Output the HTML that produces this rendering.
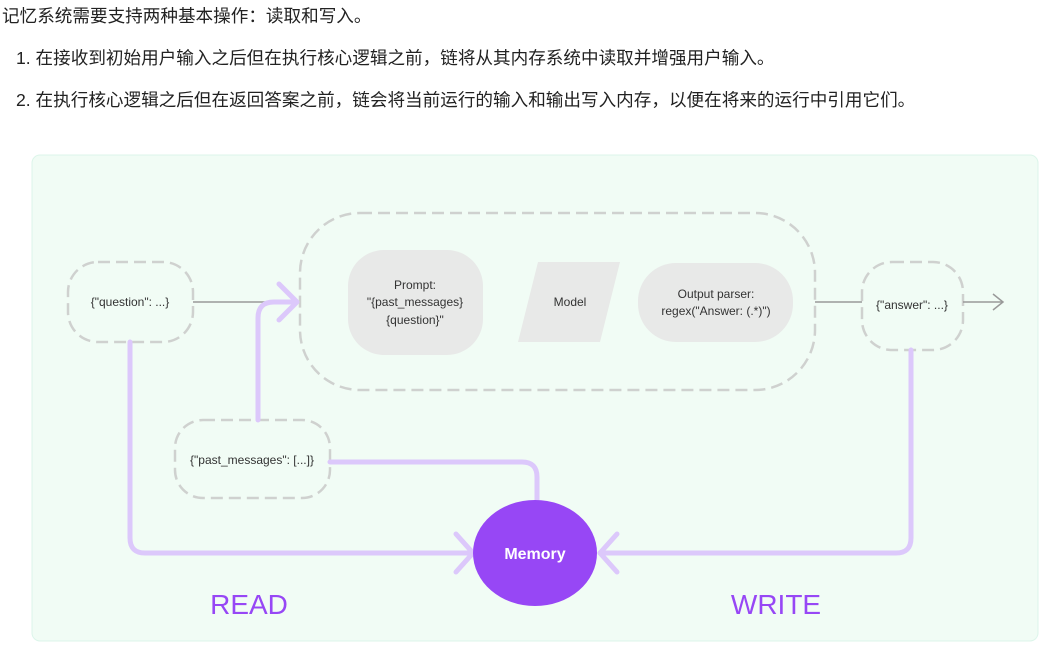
<!DOCTYPE html>
<html><head><meta charset="utf-8"><style>
body{margin:0;width:1061px;height:651px;background:#fff;overflow:hidden;font-family:"Liberation Sans","Noto Sans CJK SC",sans-serif;color:#222}
.t{position:absolute;font-size:17.6px;white-space:nowrap}
</style></head><body>
<div class="t" style="left:2px;top:3px">记忆系统需要支持两种基本操作：读取和写入。</div>
<div class="t" style="left:16px;top:45px">1. 在接收到初始用户输入之后但在执行核心逻辑之前，链将从其内存系统中读取并增强用户输入。</div>
<div class="t" style="left:16px;top:87px">2. 在执行核心逻辑之后但在返回答案之前，链会将当前运行的输入和输出写入内存，以便在将来的运行中引用它们。</div>
<svg style="position:absolute;left:0;top:0" width="1061" height="651" font-family="Liberation Sans, sans-serif">
<rect x="32" y="155" width="1006" height="486" rx="8" fill="#f1fcf5" stroke="#dcf5ea"/>
<g fill="none" stroke="#cfd1cf" stroke-width="2.5" stroke-dasharray="12 6">
<rect x="300" y="213" width="515" height="177" rx="60"/>
<rect x="68" y="262" width="125" height="80" rx="30"/>
<rect x="862" y="262" width="101" height="88" rx="30"/>
<rect x="175" y="420" width="155" height="78" rx="28"/>
</g>
<rect x="348" y="250" width="135" height="105" rx="36" fill="#e8e9e8"/>
<polygon points="538,262 620,262 600,342 518,342" fill="#e8e9e8"/>
<rect x="638" y="263" width="155" height="79" rx="38" fill="#e8e9e8"/>
<g stroke="#999" stroke-width="1.5" fill="none">
<line x1="193" y1="302" x2="296" y2="302"/>
<line x1="815" y1="302" x2="862" y2="302"/>
<line x1="963" y1="302" x2="1003" y2="302"/>
<polyline points="993,294 1003,302 993,310"/>
</g>
<g stroke="#dcc8fb" stroke-width="5" fill="none" stroke-linecap="round" stroke-linejoin="round">
<path d="M258 420 V318 Q258 302 274 302 H296"/>
<polyline points="279,284 297,302 279,320"/>
<path d="M330 462 H522 Q537 462 537 477 V500"/>
<path d="M130 342 V538 Q130 553 145 553 H471"/>
<polyline points="456,534 473,553 456,572"/>
<path d="M911 350 V538 Q911 553 896 553 H600"/>
<polyline points="617,534 600,553 617,572"/>
</g>
<ellipse cx="535" cy="553" rx="62" ry="53" fill="#9747f5"/>
<g font-size="12" fill="#333" text-anchor="middle">
<text x="130" y="306">{"question": ...}</text>
<text x="415" y="289">Prompt:</text>
<text x="415" y="306">"{past_messages}</text>
<text x="415" y="324">{question}"</text>
<text x="570" y="306">Model</text>
<text x="716" y="298">Output parser:</text>
<text x="716" y="315">regex("Answer: (.*)")</text>
<text x="912" y="309">{"answer": ...}</text>
<text x="252" y="464">{"past_messages": [...]}</text>
</g>
<text x="535" y="559" text-anchor="middle" font-size="16" font-weight="bold" fill="#fff">Memory</text>
<text x="249" y="614" text-anchor="middle" font-size="28" fill="#9747f5">READ</text>
<text x="776" y="614" text-anchor="middle" font-size="28" fill="#9747f5">WRITE</text>
</svg>
</body></html>
